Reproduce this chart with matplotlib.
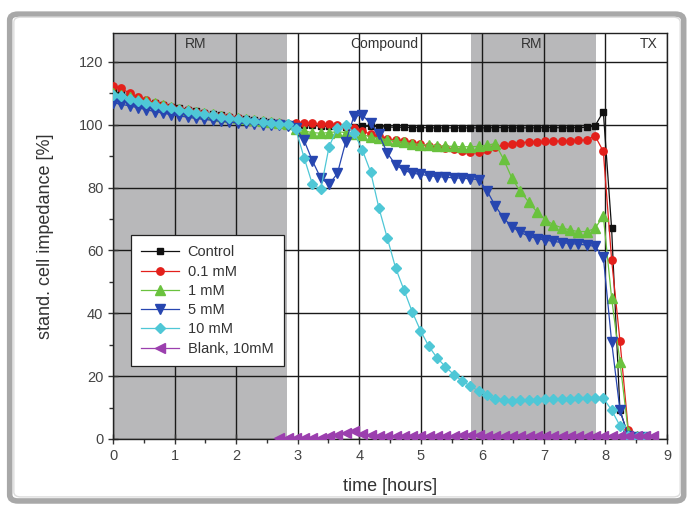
import numpy as np
import matplotlib.pyplot as plt
from matplotlib.patches import FancyBboxPatch
from matplotlib.ticker import MultipleLocator

plt.rcParams['font.family'] = ['Liberation Sans', 'DejaVu Sans']

# sampling times [hours]
time_h = [0.0, 0.135, 0.27, 0.405, 0.54, 0.675, 0.81, 0.945, 1.08, 1.215,
          1.35, 1.485, 1.62, 1.755, 1.89, 2.025, 2.16, 2.295, 2.43, 2.565,
          2.7, 2.835, 2.97, 3.105, 3.24, 3.375, 3.51, 3.645, 3.78, 3.915,
          4.05, 4.185, 4.32, 4.455, 4.59, 4.725, 4.86, 4.995, 5.13, 5.265,
          5.4, 5.535, 5.67, 5.805, 5.94, 6.075, 6.21, 6.345, 6.48, 6.615,
          6.75, 6.885, 7.02, 7.155, 7.29, 7.425, 7.56, 7.695, 7.83, 7.965,
          8.1, 8.235, 8.37, 8.505, 8.64, 8.775]

control = [110.5, 109.8, 109.0, 108.3, 107.6, 107.0, 106.4, 105.8, 105.3, 104.8,
           104.3, 103.8, 103.4, 103.0, 102.6, 102.2, 101.8, 101.5, 101.2, 100.9,
           100.6, 100.3, 100.2, 100.0, 99.8, 99.6, 99.5, 99.5, 99.4, 99.3,
           99.5, 99.5, 99.4, 99.3, 99.2, 99.2, 99.1, 99.1, 99.0, 99.0,
           99.0, 99.0, 99.0, 99.0, 99.0, 99.0, 99.1, 99.1, 99.0, 99.0,
           99.0, 99.0, 99.1, 99.1, 99.0, 99.0, 99.1, 99.2, 99.6, 104.2,
           67.0, 9.2, 1.0, 0.5, 0.5]
mm_01 = [112.3, 111.6, 110.0, 108.8, 107.8, 107.0, 106.3, 105.7, 105.1, 104.6,
         104.1, 103.6, 103.2, 102.8, 102.4, 102.0, 101.6, 101.3, 101.0, 100.7,
         100.5, 100.3, 100.5, 100.6, 100.4, 100.1, 100.2, 99.8, 99.5, 99.0,
         98.0, 97.0, 96.3, 95.5, 95.0, 94.7, 94.3, 93.8, 93.3, 93.0,
         92.6, 92.3, 91.8, 91.4, 91.2, 92.0, 92.8, 93.5, 94.0, 94.3,
         94.5, 94.6, 94.7, 94.8, 94.8, 94.9, 95.0, 95.2, 96.5, 91.5,
         57.0, 31.3, 3.0, 0.6, 0.5]
mm_1 = [110.0, 109.4, 108.7, 108.0, 107.4, 106.8, 106.2, 105.6, 105.1, 104.6,
        104.1, 103.7, 103.3, 102.9, 102.5, 102.1, 101.7, 101.4, 101.1, 100.8,
        100.5, 100.2, 98.5, 98.0, 97.5, 97.3, 97.5, 97.8, 97.5, 97.2,
        96.8, 96.2, 95.7, 95.2, 94.8, 94.4, 94.0, 93.7, 93.5, 93.3,
        93.2, 93.1, 93.0, 93.0, 93.1, 93.5, 94.0, 89.0, 83.0, 78.8,
        75.5, 72.3, 69.8, 68.2, 67.2, 66.5, 66.0, 66.0, 67.0, 71.0,
        44.8, 24.6, 2.3, 0.8, 0.5]
mm_5 = [107.0, 106.5, 106.0, 105.4, 104.8, 104.2, 103.7, 103.2, 102.8, 102.4,
        102.0, 101.7, 101.4, 101.1, 100.8, 100.6, 100.4, 100.2, 100.0, 99.9,
        99.8, 99.7, 99.0, 95.0, 88.5, 83.0, 81.0, 84.5, 94.5, 102.8,
        103.0, 100.5, 97.0, 91.0, 87.3, 85.5, 84.6, 84.2, 83.8, 83.5,
        83.3, 83.1, 83.0, 82.8, 82.5, 79.0, 74.2, 70.3, 67.6, 65.8,
        64.5, 63.8, 63.3, 62.9, 62.5, 62.2, 62.0, 61.7, 61.3, 58.0,
        31.0, 9.2, 1.0, 0.5, 0.5]
mm_10 = [109.6, 109.0, 108.3, 107.6, 107.0, 106.4, 105.8, 105.3, 104.8, 104.3,
         103.8, 103.4, 103.0, 102.6, 102.2, 101.8, 101.5, 101.2, 100.9, 100.6,
         100.3, 100.1, 98.5, 89.5, 81.0, 79.5, 93.0, 99.0, 100.0, 97.5,
         92.0, 85.0, 73.5, 64.0, 54.5, 47.5, 40.5, 34.5, 29.5, 25.8,
         23.0, 20.5, 18.5, 16.8, 15.3, 14.0, 12.8, 12.3, 12.2, 12.3,
         12.4, 12.5, 12.6, 12.7, 12.8, 12.8, 12.9, 13.0, 13.0, 13.0,
         9.2, 4.2, 1.0, 0.5, 0.5]
# blank starts at the 21st sample
blank = [0.2, 0.2, 0.3, 0.3, 0.3, 0.4, 0.8, 1.4, 2.0, 2.5,
         1.5, 1.2, 1.1, 1.1, 1.0, 1.0, 1.0, 1.0, 1.0, 1.1,
         1.1, 1.1, 1.2, 1.2, 1.2, 1.1, 1.1, 1.1, 1.0, 1.0,
         1.0, 1.0, 1.0, 1.0, 1.0, 1.0, 1.0, 0.9, 0.9, 0.9,
         0.8, 0.8, 0.8, 0.8, 0.8, 0.8]

# phases: (start, end, label, shaded)
phases = [(0.0, 2.82, 'RM', True), (2.82, 5.81, 'Compound', False),
          (5.81, 7.85, 'RM', True), (7.85, 9.0, 'TX', False)]
phase_label_x = [1.35, 4.4, 6.8, 8.7]

fig = plt.figure(figsize=(6.92, 5.05), dpi=100)

# rounded panel behind the chart
fig.patches.append(FancyBboxPatch((0.014, 0.008), 0.974, 0.964,
                                  boxstyle='round,pad=0,rounding_size=0.012',
                                  transform=fig.transFigure, facecolor='white',
                                  edgecolor='#a8a8a8', linewidth=4, zorder=-10))
fig.patches.append(FancyBboxPatch((0.02, 0.016), 0.963, 0.95,
                                  boxstyle='round,pad=0,rounding_size=0.01',
                                  transform=fig.transFigure, facecolor='white',
                                  edgecolor='#dcdcdc', linewidth=1, zorder=-9))

ax = fig.add_axes([0.1633, 0.1307, 0.8006, 0.804])
ax.set_zorder(5)

for (a, b, lab, shaded), lx in zip(phases, phase_label_x):
    if shaded:
        ax.axvspan(a, b, color='#b8b8ba', lw=0, zorder=0)
    ax.text(lx, 125.8, lab, ha='center', va='center', fontsize=10, color='#333333')

ax.grid(True, which='major', color='#1a1a1a', linewidth=1.0, zorder=1)
ax.set_axisbelow(True)

series = [
    (control, 'Control', '#111111', 's', 5.0),
    (mm_01, '0.1 mM', '#e3201b', 'o', 5.3),
    (mm_1, '1 mM', '#6ac23e', '^', 7.0),
    (mm_5, '5 mM', '#2746b0', 'v', 7.0),
    (mm_10, '10 mM', '#4fc7d6', 'D', 5.5),
]
for vals, lab, col, mk, ms in series:
    ax.plot(time_h[:len(vals)], vals, color=col, marker=mk, markersize=ms,
            linewidth=0.9, label=lab, zorder=3)
ax.plot(time_h[20:], blank, color='#9b3fae', marker='<', markersize=6.5,
        linewidth=0.9, label='Blank, 10mM', zorder=3)

ax.set_xlim(0, 9)
ax.set_ylim(0, 129.2)
ax.xaxis.set_major_locator(MultipleLocator(1))
ax.xaxis.set_minor_locator(MultipleLocator(0.5))
ax.yaxis.set_major_locator(MultipleLocator(20))
ax.yaxis.set_minor_locator(MultipleLocator(10))
ax.set_yticks([0, 20, 40, 60, 80, 100, 120])
ax.tick_params(which='major', direction='inout', length=7, width=1,
               colors='#333333', labelsize=10.5, labelcolor='#444444')
ax.tick_params(which='minor', direction='out', length=3, width=1, colors='#333333')
for s in ax.spines.values():
    s.set_color('#222222')
    s.set_linewidth(1.0)

ax.set_xlabel('time [hours]', fontsize=13, color='#333333', labelpad=11)
ax.set_ylabel('stand. cell impedance [%]', fontsize=13, color='#333333', labelpad=18)

leg = ax.legend(loc='lower left', bbox_to_anchor=(0.032, 0.18), fontsize=10.5,
                handlelength=2.6, labelspacing=0.36, borderpad=0.7,
                handletextpad=0.6, borderaxespad=0,
                fancybox=False, framealpha=1, edgecolor='#222222')
leg.get_frame().set_linewidth(0.9)
for t in leg.get_texts():
    t.set_color('#333333')

fig.savefig('out.png', dpi=100)
